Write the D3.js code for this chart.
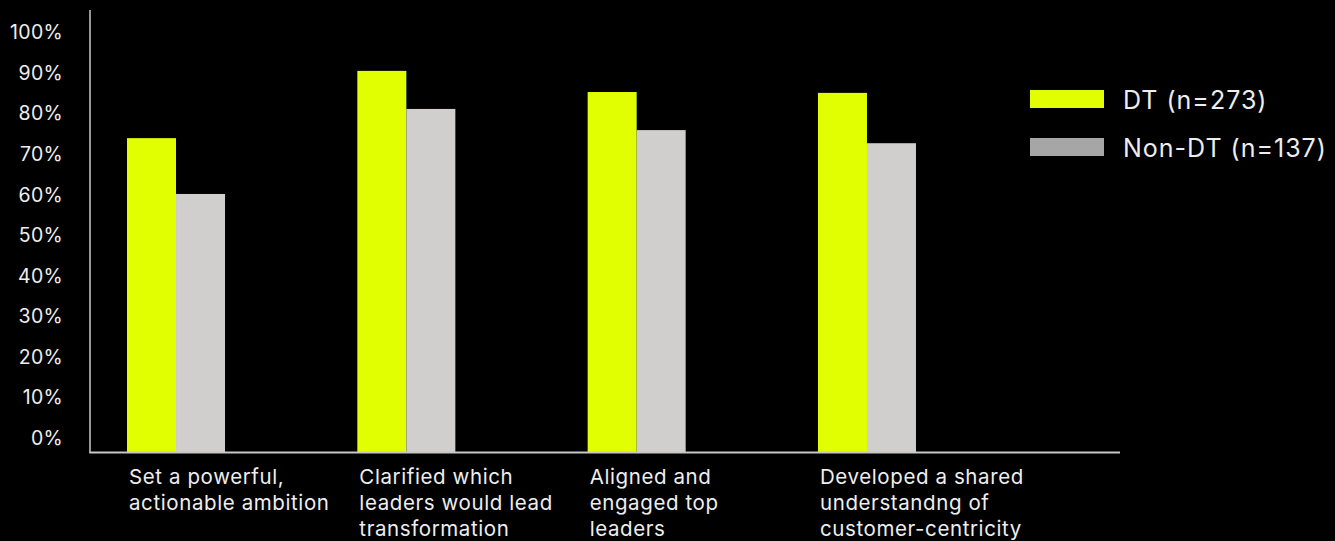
<!DOCTYPE html>
<html>
<head>
<meta charset="utf-8">
<script src="https://cdn.jsdelivr.net/npm/d3@7"></script>
<style>
  html, body { margin: 0; padding: 0; background: #000; }
  svg { display: block; }
  text { font-family: Inter, "Noto Sans", sans-serif; fill: #eeeeee; }
</style>
</head>
<body>
<svg id="chart" width="1335" height="541"></svg>
<script>
const categories = [
  ["Set a powerful,", "actionable ambition"],
  ["Clarified which", "leaders would lead", "transformation"],
  ["Aligned and", "engaged top", "leaders"],
  ["Developed a shared", "understandng of", "customer-centricity"]
];
const seriesNames = ["DT (n=273)", "Non-DT (n=137)"];
const dtValues = [74.2, 90.1, 85.1, 84.9];
const nonDtValues = [61, 81.1, 76.1, 73];
const yTicks = [0, 10, 20, 30, 40, 50, 60, 70, 80, 90, 100];

const barColors = ["#e1ff00", "#d0cfcd"];
const legendColors = ["#e1ff00", "#a6a6a6"];

const svg = d3.select("#chart");
const x0 = d3.scaleBand().domain(d3.range(categories.length)).range([90, 953]).paddingInner(0.5745).paddingOuter(0.1607);
const x1 = d3.scaleBand().domain([0, 1]).range([0, x0.bandwidth()]);
const y = d3.scaleLinear().domain([0, 100]).range([452, 29]);
const yLabel = d3.scaleLinear().domain([0, 100]).range([445, 39.3]);

const series = [dtValues, nonDtValues];
const groups = svg.append("g").selectAll("g").data(categories).join("g")
  .attr("transform", (d, i) => `translate(${x0(i)},0)`);
groups.selectAll("rect").data((d, i) => series.map((s, k) => ({k, v: s[i]}))).join("rect")
  .attr("x", d => x1(d.k))
  .attr("width", x1.bandwidth())
  .attr("y", d => y(d.v))
  .attr("height", d => y(0) - y(d.v))
  .attr("fill", d => barColors[d.k]);

// axes
svg.append("line").attr("x1", 90).attr("x2", 90).attr("y1", 10).attr("y2", 452.5)
  .attr("stroke", "#c8c8c8").attr("stroke-width", 1.5);
svg.append("line").attr("x1", 89.25).attr("x2", 1120).attr("y1", 452.5).attr("y2", 452.5)
  .attr("stroke", "#c8c8c8").attr("stroke-width", 2);

svg.append("g").selectAll("text").data(yTicks).join("text")
  .attr("x", 63).attr("y", d => yLabel(d))
  .attr("text-anchor", "end").style("font-size", "19.5px").style("letter-spacing", "0.3px")
  .text(d => d + "%");

// category labels
const cl = svg.append("g").selectAll("text").data(categories).join("text")
  .attr("x", (d, i) => x0(i) + 2).attr("y", 484)
  .style("font-size", "20.5px").style("letter-spacing", "0.6px");
cl.selectAll("tspan").data(d => d).join("tspan")
  .attr("x", function() { return d3.select(this.parentNode).attr("x"); })
  .attr("dy", (d, j) => j === 0 ? 0 : 26)
  .text(d => d);

// legend
const lg = svg.append("g").selectAll("g").data(seriesNames).join("g")
  .attr("transform", (d, i) => `translate(1030,${90 + i * 48})`);
lg.append("rect").attr("width", 74).attr("height", 18).attr("fill", (d, i) => legendColors[i]);
lg.append("text").attr("x", 93).attr("y", 19).style("font-size", "25px").style("letter-spacing", "1px").text(d => d);
</script>
</body>
</html>
